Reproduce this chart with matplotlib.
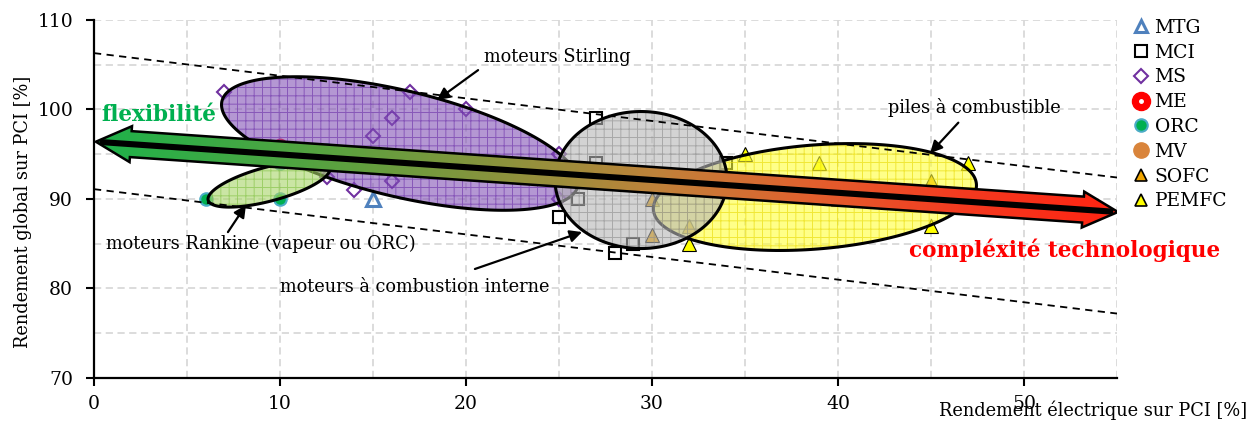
import numpy as np
import matplotlib
matplotlib.use('Agg')
import matplotlib.pyplot as plt
from matplotlib.patches import Polygon
from matplotlib.lines import Line2D
from matplotlib.colors import LinearSegmentedColormap
from matplotlib.legend_handler import HandlerTuple

plt.rcParams['font.family'] = 'DejaVu Serif'
plt.rcParams['hatch.linewidth'] = 0.7

# --- data (electrical efficiency %, global efficiency %) ---
mtg_x = [15]
mtg_y = [90]
mci_x = [27, 27, 26, 25, 28, 29, 34]
mci_y = [99, 94, 90, 88, 84, 85, 94]
ms_x = [7, 17, 20, 16, 15, 16, 14, 12.5, 25, 25]
ms_y = [102, 102, 100, 99, 97, 92, 91, 92.5, 95, 90]
me_x = [10]
me_y = [96]
orc_x = [6, 10, 10, 12.5]
orc_y = [90, 90, 94, 95.5]
mv_x = []
mv_y = []
sofc_x = [30, 30, 32, 45, 40]
sofc_y = [90, 86, 87, 92, 90]
pemfc_x = [35, 39, 47, 45, 32, 47]
pemfc_y = [95, 94, 94, 87, 85, 90.5]

# dashed bounds (x, y at both ends)
upper_bound = ([0, 55], [106.3, 92.4])
lower_bound = ([0, 55], [91.1, 77.2])

W, H = 1253, 429
fig = plt.figure(figsize=(W / 100, H / 100), dpi=100)
ax = fig.add_axes([94 / W, 51 / H, 1023 / W, 358 / H])
ax.set_xlim(0, 55)
ax.set_ylim(70, 110)
ax.set_xticks(range(0, 51, 10))
ax.set_yticks(range(70, 111, 10))
ax.set_xticks(range(0, 56, 5), minor=True)
ax.set_yticks(range(70, 111, 5), minor=True)
ax.set_axisbelow(True)
ax.grid(which='both', color='#D9D9D9', lw=1.3, ls=(0, (4, 2.5)))
ax.tick_params(which='minor', length=0)
ax.tick_params(which='major', direction='out', length=6, width=1.5, labelsize=13.5)
ax.tick_params(axis='y', pad=9)
ax.tick_params(axis='x', pad=6)
for s in ['top', 'right']:
    ax.spines[s].set_visible(False)
for s in ['left', 'bottom']:
    ax.spines[s].set_linewidth(1.6)

# points
ax.plot(mtg_x, mtg_y, ls='none', marker='^', ms=9.5, mfc='none', mec='#4F81BD', mew=2.2, zorder=2)
ax.plot(mci_x, mci_y, ls='none', marker='s', ms=8.5, mfc='white', mec='k', mew=1.5, zorder=2)
ax.plot(ms_x, ms_y, ls='none', marker='D', ms=7, mfc='white', mec='#7030A0', mew=1.5, zorder=2)
ax.plot(me_x, me_y, ls='none', marker='o', ms=9, mfc='#FF0000', mec='#FF0000', zorder=2)
ax.plot(orc_x, orc_y, ls='none', marker='o', ms=9, mfc='#00B050', mec='#4BACC6', mew=1.5, zorder=2)
ax.plot(mv_x, mv_y, ls='none', marker='o', ms=9, mfc='#D9843B', mec='#D9843B', zorder=2)
ax.plot(sofc_x, sofc_y, ls='none', marker='^', ms=10, mfc='#F0A500', mec='k', mew=0.8, zorder=2)
ax.plot(pemfc_x, pemfc_y, ls='none', marker='^', ms=10, mfc='#FFFF00', mec='k', mew=0.8, zorder=2)


def to_data(pts):
    return ax.transData.inverted().transform(pts)


def blob(cx, cy, a, b, ang, face, hatchc, z):
    c = ax.transData.transform((cx, cy))
    t = np.linspace(0, 2 * np.pi, 240)
    th = np.radians(ang)
    px = c[0] + a * np.cos(t) * np.cos(th) - b * np.sin(t) * np.sin(th)
    py = c[1] + a * np.cos(t) * np.sin(th) + b * np.sin(t) * np.cos(th)
    d = to_data(np.column_stack([px, py]))
    ax.add_patch(Polygon(d, closed=True, facecolor=face, edgecolor=hatchc, hatch='++',
                         lw=0, alpha=0.6, zorder=z))
    ax.add_patch(Polygon(d, closed=True, fill=False, edgecolor='k', lw=2.2, zorder=z))


blob(16.45, 96.2, 183, 53, -13.4, '#8252B7', '#6A2DA8', 3.0)
blob(9.41, 91.68, 63, 17, 15, '#A8D567', '#7FC040', 3.1)
blob(38.76, 90.22, 162, 52, 4.6, '#FFFF39', '#E8D800', 3.2)
blob(29.41, 92.12, 86, 68.5, 0, '#B7B7B7', '#8C8C8C', 3.3)

ax.plot(*upper_bound, color='k', lw=1.3, ls=(0, (4, 3)), zorder=3.5)
ax.plot(*lower_bound, color='k', lw=1.3, ls=(0, (4, 3)), zorder=3.5)

# big double arrow
p0 = ax.transData.transform((0.1, 96.4))
p1 = ax.transData.transform((55.05, 88.55))
u = (p1 - p0) / np.hypot(*(p1 - p0))
n = np.array([-u[1], u[0]])
sw, hw, hl = 13, 18, 35
shape = [p0, p0 + u * hl + n * hw, p0 + u * hl + n * sw, p1 - u * hl + n * sw,
         p1 - u * hl + n * hw, p1, p1 - u * hl - n * hw, p1 - u * hl - n * sw,
         p0 + u * hl - n * sw, p0 + u * hl - n * hw]
shape = to_data(np.array(shape))
arrow = Polygon(shape, closed=True, facecolor='none', edgecolor='k', lw=1.8, zorder=5.2)
ax.add_patch(arrow)
cmap = LinearSegmentedColormap.from_list('grad', [
    (0.0, '#1EB24A'), (0.25, '#5FA03F'), (0.45, '#9C8E3C'), (0.55, '#C0823A'),
    (0.7, '#E2602E'), (0.85, '#F43A20'), (1.0, '#FF2412')])
grad = np.linspace(0, 1, 400).reshape(1, -1)
img = ax.imshow(grad, cmap=cmap, aspect='auto', zorder=5,
                extent=[shape[:, 0].min(), shape[:, 0].max(), shape[:, 1].min(), shape[:, 1].max()])
img.set_clip_path(arrow)
ax.plot([0.3, 54.8], [96.37, 88.58], color='k', lw=4.4, solid_capstyle='butt', zorder=5.3)
ax.set_xlim(0, 55)
ax.set_ylim(70, 110)

# annotations
notes = ['moteurs Stirling', 'piles à combustible', 'moteurs Rankine (vapeur ou ORC)',
         'moteurs à combustion interne']
note_xy = [(24.9, 105.87), (47.31, 100.17), (8.98, 84.97), (17.26, 80.17)]
note_tail = [(20.65, 104.4), (46.47, 98.53), (7.2, 86.3), (20.48, 82.18)]
note_tip = [(18.44, 101.06), (44.95, 95.11), (8.17, 89.33), (26.24, 86.31)]
for txt, xy, tail, tip in zip(notes, note_xy, note_tail, note_tip):
    ax.text(xy[0], xy[1], txt, ha='center', va='center', fontsize=12.8, zorder=6)
    ax.annotate('', xy=tip, xytext=tail, zorder=4,
                arrowprops=dict(arrowstyle='-|>', color='k', lw=1.6, mutation_scale=18,
                                shrinkA=0, shrinkB=0))

ax.text(3.49, 99.39, 'flexibilité', color='#00B050', fontsize=15.5, fontweight='bold',
        ha='center', va='center', zorder=6)
ax.text(52.2, 84.3, 'compléxité technologique', color='#FF0000', fontsize=15.5,
        fontweight='bold', ha='center', va='center', zorder=6, clip_on=False)

fig.text(23 / W, 1 - 212 / H, 'Rendement global sur PCI [%]', rotation=90,
         ha='center', va='center', fontsize=12.8)
fig.text(1247 / W, 1 - 410 / H, 'Rendement électrique sur PCI [%]',
         ha='right', va='center', fontsize=12.8)

# legend
labels = ['MTG', 'MCI', 'MS', 'ME', 'ORC', 'MV', 'SOFC', 'PEMFC']
handles = [
    Line2D([], [], ls='none', marker='^', ms=9, mfc='none', mec='#4F81BD', mew=2.2),
    Line2D([], [], ls='none', marker='s', ms=8, mfc='white', mec='k', mew=1.5),
    Line2D([], [], ls='none', marker='D', ms=7, mfc='white', mec='#7030A0', mew=1.5),
    (Line2D([], [], ls='none', marker='o', ms=13, mfc='#FF0000', mec='#FF0000'),
     Line2D([], [], ls='none', marker='o', ms=2.5, mfc='white', mec='white')),
    Line2D([], [], ls='none', marker='o', ms=9, mfc='#00B050', mec='#4BACC6', mew=1.5),
    Line2D([], [], ls='none', marker='o', ms=11, mfc='#D9843B', mec='#D9843B'),
    Line2D([], [], ls='none', marker='^', ms=8, mfc='#F0A500', mec='k', mew=1.2),
    Line2D([], [], ls='none', marker='^', ms=8, mfc='#FFFF00', mec='k', mew=1.2),
]
fig.legend(handles, labels, loc='upper left', bbox_to_anchor=(1133 / W, 1 - 19 / H),
           frameon=False, fontsize=13.5, handlelength=0.9, handletextpad=0.25,
           labelspacing=0.36, borderpad=0, borderaxespad=0,
           handler_map={tuple: HandlerTuple(ndivide=1)})

fig.savefig('out.png', dpi=100)
